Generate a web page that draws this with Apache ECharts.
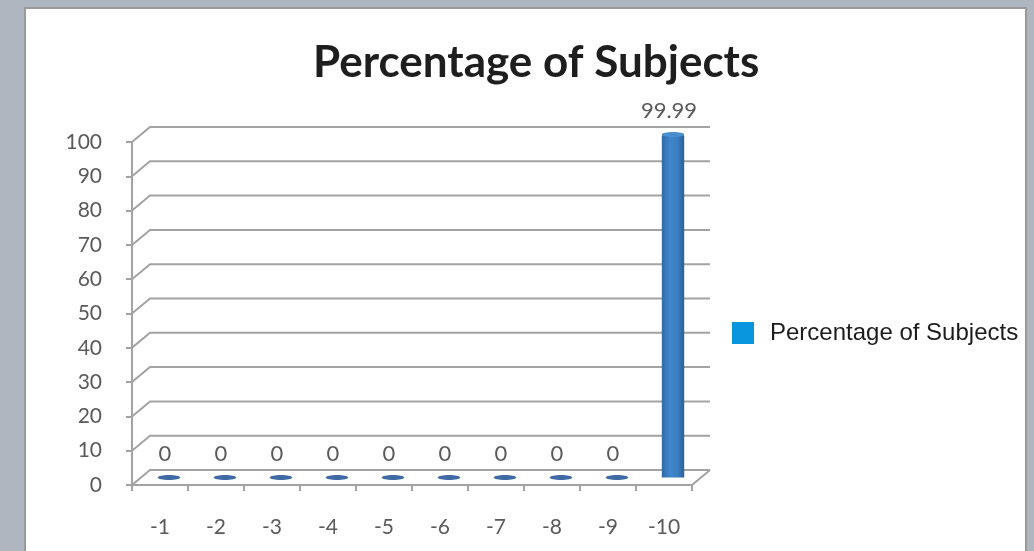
<!DOCTYPE html>
<html>
<head>
<meta charset="utf-8">
<script src="https://cdn.jsdelivr.net/npm/echarts@6/dist/echarts.min.js"></script>
<style>
  html, body { margin: 0; padding: 0; background: #aeb6bf; }
  #chart { width: 1034px; height: 551px; }
</style>
</head>
<body>
<div id="chart"></div>
<script>
// Category labels along the floor of the chart
const categories = ['-1', '-2', '-3', '-4', '-5', '-6', '-7', '-8', '-9', '-10'];
// Percentage of subjects for each category
const percentages = [0, 0, 0, 0, 0, 0, 0, 0, 0, 99.99];
// Value-axis tick values drawn on the back wall
const wallTicks = [0, 10, 20, 30, 40, 50, 60, 70, 80, 90, 100];

const seriesName = 'Percentage of Subjects';

// depth of the pseudo-3D box (back wall offset from the axes)
const DEPTH_X = 18;
const DEPTH_Y = -15;
const GRID_COLOR = '#a3a3a3';
const LABEL_COLOR = '#5a5a5a';
const LABEL_FONT = 'Lato, "Open Sans", sans-serif';

const chart = echarts.init(document.getElementById('chart'), null, { renderer: 'canvas' });

// back-wall gridlines: a short slanted segment from the axis, then a horizontal run
function renderWall(params, api) {
  const cs = params.coordSys;
  const v = api.value(0);
  const y = api.coord([0, v])[1];
  const x0 = cs.x;
  const x1 = cs.x + cs.width;
  const children = [{
    type: 'polyline',
    shape: { points: [[x0, y], [x0 + DEPTH_X, y + DEPTH_Y], [x1 + DEPTH_X, y + DEPTH_Y]] },
    style: { stroke: GRID_COLOR, lineWidth: 2, fill: null }
  }];
  if (v === 0) {
    // right edge of the floor
    children.push({
      type: 'line',
      shape: { x1: x1, y1: y, x2: x1 + DEPTH_X, y2: y + DEPTH_Y },
      style: { stroke: GRID_COLOR, lineWidth: 2 }
    });
  }
  return { type: 'group', children: children };
}

// columns sit half-way into the box depth
function renderColumn(params, api) {
  const idx = api.value(0);
  const val = api.value(1);
  const top = api.coord([idx, val]);
  const base = api.coord([idx, 0]);
  const bw = api.size([1, 0])[0] * 0.4;
  const cx = top[0] + DEPTH_X / 2;
  const ty = top[1] + DEPTH_Y / 2;
  const by = base[1] + DEPTH_Y / 2;
  const h = by - ty;
  const children = [];
  if (h > 1) {
    children.push({
      type: 'rect',
      shape: { x: cx - bw / 2, y: ty, width: bw, height: h, r: [2, 2, 0, 0] },
      style: {
        fill: new echarts.graphic.LinearGradient(0, 0, 1, 0, [
          { offset: 0, color: '#2f6aa8' },
          { offset: 0.35, color: '#3f86cb' },
          { offset: 0.7, color: '#3a7fc2' },
          { offset: 1, color: '#2a5f98' }
        ])
      }
    });
  }
  children.push({
    type: 'ellipse',
    shape: { cx: cx, cy: ty, rx: bw / 2, ry: 2.5 },
    style: { fill: h > 1 ? '#4a8fd0' : '#3f6aa3' }
  });
  children.push({
    type: 'text',
    style: {
      text: String(val),
      x: top[0] + 5,
      y: ty - 13,
      align: 'center',
      verticalAlign: 'bottom',
      fill: LABEL_COLOR,
      font: '22px ' + LABEL_FONT
    }
  });
  return { type: 'group', children: children };
}

const option = {
  backgroundColor: '#aeb6bf',
  animation: false,
  title: {
    text: seriesName,
    left: 308,
    top: 36,
    textStyle: {
      fontFamily: LABEL_FONT,
      fontWeight: 'bold',
      fontSize: 44,
      color: '#1e1e1e'
    }
  },
  graphic: [
    {
      type: 'rect',
      z: -10,
      shape: { x: 25, y: 8, width: 1001, height: 560 },
      style: { fill: '#ffffff', stroke: '#9a9a9a', lineWidth: 2 }
    }
  ],
  legend: {
    left: 732,
    top: 321,
    padding: 0,
    orient: 'vertical',
    icon: 'rect',
    itemWidth: 22,
    itemHeight: 22,
    data: [seriesName],
    textStyle: {
      fontFamily: '"Liberation Sans", Arial, sans-serif',
      fontSize: 24,
      color: '#1c1c1c',
      padding: [0, 0, 0, 11]
    }
  },
  grid: {
    left: 132,
    top: 142,
    width: 560,
    height: 343
  },
  xAxis: {
    type: 'category',
    data: categories,
    boundaryGap: true,
    axisLine: { lineStyle: { color: GRID_COLOR, width: 2 } },
    axisTick: { show: true, length: 6, lineStyle: { color: GRID_COLOR, width: 2 } },
    axisLabel: {
      color: LABEL_COLOR,
      fontFamily: LABEL_FONT,
      fontSize: 21,
      margin: 32
    },
    splitLine: { show: false }
  },
  yAxis: {
    type: 'value',
    min: 0,
    max: 100,
    interval: 10,
    axisLine: { show: true, lineStyle: { color: GRID_COLOR, width: 2 } },
    axisTick: { show: true, length: 6, lineStyle: { color: GRID_COLOR, width: 2 } },
    axisLabel: {
      color: LABEL_COLOR,
      fontFamily: LABEL_FONT,
      fontSize: 21,
      margin: 30
    },
    splitLine: { show: false }
  },
  series: [
    {
      type: 'custom',
      name: 'wall',
      silent: true,
      z: 1,
      renderItem: renderWall,
      data: wallTicks.map(function (t) { return [t]; }),
      encode: { y: 0 }
    },
    {
      type: 'custom',
      name: seriesName,
      z: 5,
      itemStyle: { color: '#0a96de' },
      renderItem: renderColumn,
      data: percentages.map(function (v, i) { return [i, v]; }),
      encode: { x: 0, y: 1 }
    }
  ]
};

chart.setOption(option);
</script>
</body>
</html>
